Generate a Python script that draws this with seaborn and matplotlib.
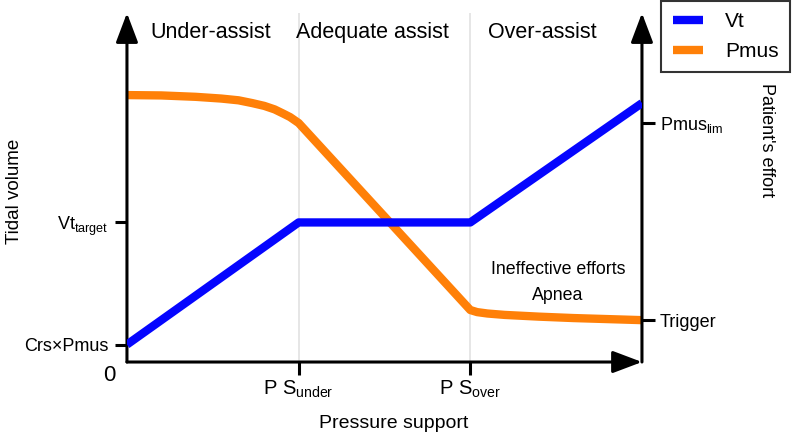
import matplotlib
matplotlib.use('Agg')
import matplotlib.pyplot as plt
import seaborn as sns

# ── data (conceptual units: x 0..3 = origin, PS_under, PS_over, end; y 0..10) ──
ps_vt = [0.0, 1.0, 2.0, 3.0]
vt = [0.5, 4.0, 4.0, 7.42]

ps_pmus = [0.0, 0.2, 0.4, 0.55, 0.65, 0.73, 0.8, 0.86, 0.91, 0.95, 1.0,
           2.0, 2.04, 2.1, 2.2, 2.4, 2.6, 2.8, 3.0]
pmus = [7.65, 7.64, 7.60, 7.55, 7.50, 7.42, 7.34, 7.24, 7.12, 7.02, 6.85,
        1.49, 1.43, 1.39, 1.35, 1.30, 1.26, 1.23, 1.20]

x_ticks = [1.0, 2.0]
x_tick_labels = ['P S$_{\\mathrm{under}}$', 'P S$_{\\mathrm{over}}$']
left_ticks = [0.5, 4.0]
left_tick_labels = ['Crs×Pmus', 'Vt$_{\\mathrm{target}}$']
right_ticks = [1.20, 6.85]
right_tick_labels = ['Trigger', 'Pmus$_{\\mathrm{lim}}$']

zones = ['Under-assist', 'Adequate assist', 'Over-assist']
zone_x = [0.49, 1.43, 2.42]

BLUE = '#0505ff'
ORANGE = '#ff8008'

sns.set_style('white')
plt.rcParams['font.family'] = ['Liberation Sans', 'DejaVu Sans']
plt.rcParams['mathtext.fontset'] = 'custom'
plt.rcParams['mathtext.rm'] = 'Liberation Sans'
plt.rcParams['mathtext.it'] = 'Liberation Sans:italic'
plt.rcParams['text.color'] = 'black'
plt.rcParams['xtick.color'] = 'black'
plt.rcParams['ytick.color'] = 'black'
plt.rcParams['axes.labelcolor'] = 'black'

fig, ax = plt.subplots(figsize=(7.95, 4.36), dpi=100)
fig.subplots_adjust(left=0.1597, right=0.8075, bottom=0.1697, top=0.970)

# zone separators
for xv in x_ticks:
    ax.axvline(xv, color='#e2e2e2', lw=1.2, zorder=0)

sns.lineplot(x=ps_pmus, y=pmus, ax=ax, color=ORANGE, lw=6, label='Pmus',
             sort=False, estimator=None, zorder=3)
sns.lineplot(x=ps_vt, y=vt, ax=ax, color=BLUE, lw=6, label='Vt',
             sort=False, estimator=None, zorder=4)
for ln in ax.get_lines():
    ln.set_solid_capstyle('butt')
    ln.set_solid_joinstyle('round')
handles, labels = ax.get_legend_handles_labels()
ax.get_legend().remove()

ax.set_xlim(0, 3)
ax.set_ylim(0, 10)
ax.set_xticks(x_ticks, x_tick_labels)
ax.set_yticks(left_ticks, left_tick_labels)
ax.tick_params(axis='y', labelsize=13, length=9, width=2.2, pad=4,
               direction='out', left=True)
ax.tick_params(axis='x', labelsize=14.5, length=9, width=2.2, pad=3,
               direction='out', bottom=True)

ax2 = ax.twinx()
ax2.set_ylim(0, 10)
ax2.set_yticks(right_ticks, right_tick_labels)
ax2.tick_params(axis='y', labelsize=13, length=9, width=2.2, pad=4,
                direction='out', right=True)

for a in (ax, ax2):
    for s in a.spines.values():
        s.set_visible(False)
    a.grid(False)

# axis lines with arrowheads
arrow_kw = dict(arrowstyle='-|>,head_length=1.8,head_width=0.68', lw=2.2,
                color='black', shrinkA=0, shrinkB=0, mutation_scale=10)
for start, end in [((0, 0), (0, 1)), ((1, 0), (1, 1)), ((0, 0), (1, 0))]:
    ax.annotate('', xy=end, xytext=start, xycoords='axes fraction',
                textcoords='axes fraction', arrowprops=arrow_kw,
                annotation_clip=False)

ax.annotate('0', xy=(0, 0), xytext=(-8, -2), textcoords='offset points',
            ha='right', va='top', fontsize=16)

for name, xz in zip(zones, zone_x):
    ax.text(xz, 9.43, name, ha='center', va='center', fontsize=15.5)

ax.text(2.51, 2.64, 'Ineffective efforts', ha='center', va='center', fontsize=12.8)
ax.text(2.51, 1.92, 'Apnea', ha='center', va='center', fontsize=12.8)

fig.text(394 / 795, 1 - 423 / 436, 'Pressure support', ha='center', va='center',
         fontsize=14)
fig.text(15 / 795, 1 - 191 / 436, 'Tidal volume', ha='center', va='center',
         rotation=90, fontsize=13.5)
fig.text(767 / 795, 1 - 140 / 436, "Patient's effort", ha='center', va='center',
         rotation=-90, fontsize=13)

leg = fig.legend([handles[1], handles[0]], [labels[1], labels[0]],
                 loc='upper right', bbox_to_anchor=(790 / 795, 435 / 436),
                 borderaxespad=0, fontsize=15, frameon=True, fancybox=False,
                 handlelength=1.45, handletextpad=1.05, labelspacing=0.5,
                 borderpad=0.55)
leg.get_frame().set_edgecolor('black')
leg.get_frame().set_linewidth(1.5)
for h in leg.get_lines():
    h.set_linewidth(6)
    h.set_solid_capstyle('butt')

fig.savefig('out.png', dpi=100)
